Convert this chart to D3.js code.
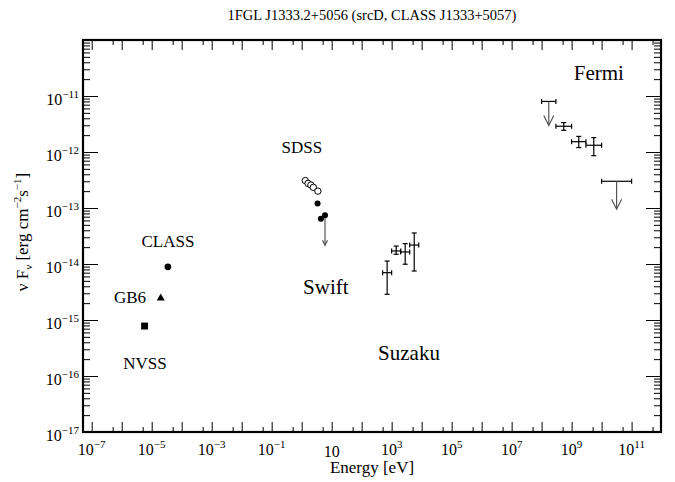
<!DOCTYPE html>
<html>
<head>
<meta charset="utf-8">
<script src="https://cdn.jsdelivr.net/npm/d3@7"></script>
<style>
  body { margin: 0; background: #fff; }
  svg { display: block; }
  text { font-family: "Liberation Serif", "DejaVu Serif", serif; fill: #000; }
</style>
</head>
<body>
<svg id="chart" width="675" height="482"></svg>
<script>
// ---------------- DATA ----------------
const titleText = "1FGL J1333.2+5056 (srcD, CLASS J1333+5057)";
const xLabelText = "Energy [eV]";

// Radio (NVSS, GB6, CLASS)
const radioNames = ["NVSS", "GB6", "CLASS"];
const radioE = [5.8e-6, 2.0e-5, 3.47e-5];
const radioF = [7.8e-16, 2.45e-15, 8.9e-15];
const radioSymbols = ["square", "triangle", "circle"];

// SDSS optical (open circles)
const sdssE = [1.32, 1.63, 2.03, 2.45, 3.47];
const sdssF = [3.09e-13, 2.75e-13, 2.57e-13, 2.34e-13, 2.0e-13];

// UV (filled circles), last one is an upper limit
const uvE = [3.39, 4.37, 6.0];
const uvF = [1.2e-13, 6.46e-14, 7.4e-14];
const uvUL = [false, false, true];

// X-ray (Swift / Suzaku)
const xrayElo = [500, 1000, 2000, 4000];
const xrayEhi = [1000, 2000, 4000, 8000];
const xrayF = [7.0e-15, 1.71e-14, 1.64e-14, 2.18e-14];
const xrayFlo = [2.88e-15, 1.49e-14, 9.9e-15, 7.5e-15];
const xrayFhi = [1.13e-14, 2.09e-14, 2.31e-14, 3.58e-14];

// Fermi LAT
const fermiElo = [1e8, 3e8, 1e9, 3e9, 1e10];
const fermiEhi = [3e8, 1e9, 3e9, 1e10, 1e11];
const fermiF = [8.0e-12, 2.88e-12, 1.53e-12, 1.32e-12, 3.0e-13];
const fermiFlo = [null, 2.44e-12, 1.2e-12, 8.6e-13, null];
const fermiFhi = [null, 3.35e-12, 1.9e-12, 1.81e-12, null];
const fermiUL = [true, false, false, false, true];

// Text annotations (data coordinates)
const annText = ["CLASS", "GB6", "NVSS", "SDSS", "Swift", "Suzaku", "Fermi"];
const annE = [3.5e-5, 1.9e-6, 6.0e-6, 1.02, 6.4, 3800, 8.1e9];
const annF = [2.54e-14, 2.57e-15, 1.7e-16, 1.2e-12, 3.9e-15, 2.57e-16, 2.57e-11];
const annBig = [false, false, false, false, true, true, true];

// Ticks
const xMajorExp = d3.range(-7, 12);
const xLabelExp = [-7, -5, -3, -1, 1, 3, 5, 7, 9, 11];
const yMajorExp = d3.range(-17, -9);
const yLabelExp = [-17, -16, -15, -14, -13, -12, -11];

// ---------------- LAYOUT ----------------
const svg = d3.select("#chart");
const L = 83, R = 661, T = 40, B = 432;

const x = d3.scaleLog().domain([Math.pow(10, -7.29), Math.pow(10, 11.98)]).range([L, R]);
const y = d3.scaleLog().domain([1e-17, 1e-10]).range([B, T]);

const xMajor = xMajorExp.map(e => Math.pow(10, e));
const xMinor = d3.range(-8, 12).map(e => 5 * Math.pow(10, e)).filter(v => x(v) > L + 0.5 && x(v) < R - 0.5);
const yMajor = yMajorExp.map(e => Math.pow(10, e)).filter(v => y(v) < B - 0.5 && y(v) > T + 0.5);
const yMinor = [];
d3.range(-17, -10).forEach(e => { for (let k = 2; k <= 9; k++) yMinor.push(k * Math.pow(10, e)); });

const minus = "\u2212";

// ---------------- AXES (ticks via d3 axes, inward) ----------------
function drawAxis(axisGen, tx, ty) {
  const g = svg.append("g").attr("transform", `translate(${tx},${ty})`).call(axisGen);
  g.select(".domain").remove();
  g.selectAll("text").remove();
  g.selectAll("line").attr("stroke", "#000").attr("stroke-width", 1);
  return g;
}
// bottom
drawAxis(d3.axisBottom(x).tickValues(xMajor).tickSizeInner(-10).tickSizeOuter(0), 0, B);
drawAxis(d3.axisBottom(x).tickValues(xMinor).tickSizeInner(-5).tickSizeOuter(0), 0, B);
// top
drawAxis(d3.axisTop(x).tickValues(xMajor).tickSizeInner(-10).tickSizeOuter(0), 0, T);
drawAxis(d3.axisTop(x).tickValues(xMinor).tickSizeInner(-5).tickSizeOuter(0), 0, T);
// left
drawAxis(d3.axisLeft(y).tickValues(yMajor).tickSizeInner(-15).tickSizeOuter(0), L, 0);
drawAxis(d3.axisLeft(y).tickValues(yMinor).tickSizeInner(-7).tickSizeOuter(0), L, 0);
// right
drawAxis(d3.axisRight(y).tickValues(yMajor).tickSizeInner(-15).tickSizeOuter(0), R, 0);
drawAxis(d3.axisRight(y).tickValues(yMinor).tickSizeInner(-7).tickSizeOuter(0), R, 0);

// frame
svg.append("rect").attr("x", L).attr("y", T).attr("width", R - L).attr("height", B - T)
  .attr("fill", "none").attr("stroke", "#000").attr("stroke-width", 2.2);

// x tick labels
const xl = svg.append("g");
xLabelExp.forEach(e => {
  const t = xl.append("text").attr("x", x(Math.pow(10, e))).attr("y", 455)
    .attr("text-anchor", "middle").attr("font-size", 16);
  if (e === 1) {
    t.attr("y", 457).text("10");
  } else {
    t.append("tspan").text("10");
    t.append("tspan").attr("font-size", 11).attr("dy", -7).text((e < 0 ? minus : "") + Math.abs(e));
  }
});
// y tick labels
const yl = svg.append("g");
yLabelExp.forEach(e => {
  const t = yl.append("text").attr("x", 79).attr("y", y(Math.pow(10, e)) + 9)
    .attr("text-anchor", "end").attr("font-size", 16);
  t.append("tspan").text("10");
  t.append("tspan").attr("font-size", 11).attr("dy", -7).text(minus + Math.abs(e));
});

// axis titles
svg.append("text").attr("x", (L + R) / 2).attr("y", 473).attr("text-anchor", "middle")
  .attr("font-size", 17).text(xLabelText);

const yt = svg.append("text").attr("transform", `translate(28,${232}) rotate(-90)`)
  .attr("text-anchor", "middle").attr("font-size", 17);
yt.append("tspan").text("\u03bd F");
yt.append("tspan").attr("font-size", 11).attr("dy", 4).text("\u03bd");
yt.append("tspan").attr("dy", -4).text(" [erg cm");
yt.append("tspan").attr("font-size", 11).attr("dy", -7).text(minus + "2");
yt.append("tspan").attr("dy", 7).text("s");
yt.append("tspan").attr("font-size", 11).attr("dy", -7).text(minus + "1");
yt.append("tspan").attr("dy", 7).text("]");

// title
svg.append("text").attr("x", (L + R) / 2).attr("y", 20).attr("text-anchor", "middle")
  .attr("font-size", 14.5).text(titleText);

// ---------------- MARKS ----------------
const marks = svg.append("g");

// radio
const symMap = { square: d3.symbolSquare, triangle: d3.symbolTriangle, circle: d3.symbolCircle };
const symSize = { square: 48, triangle: 28, circle: 36 };
radioE.forEach((e, i) => {
  marks.append("path")
    .attr("d", d3.symbol().type(symMap[radioSymbols[i]]).size(symSize[radioSymbols[i]])())
    .attr("transform", `translate(${x(e)},${y(radioF[i])})`)
    .attr("fill", "#000");
});

// upper-limit helper
function upperLimit(px, py, len, head, color) {
  marks.append("line").attr("x1", px).attr("x2", px).attr("y1", py).attr("y2", py + len)
    .attr("stroke", color).attr("stroke-width", 1.2);
  marks.append("path")
    .attr("d", `M${px - head * 0.5},${py + len - head} L${px},${py + len} L${px + head * 0.5},${py + len - head}`)
    .attr("fill", "none").attr("stroke", color).attr("stroke-width", 1.2);
}

// UV / optical filled points
uvE.forEach((e, i) => {
  const px = x(e), py = y(uvF[i]);
  if (uvUL[i]) upperLimit(px, py, 30, 5, "#555");
  marks.append("circle").attr("cx", px).attr("cy", py).attr("r", 3).attr("fill", "#000");
});

// SDSS open circles
sdssE.forEach((e, i) => {
  marks.append("circle").attr("cx", x(e)).attr("cy", y(sdssF[i])).attr("r", 3.2)
    .attr("fill", "#fff").attr("stroke", "#000").attr("stroke-width", 1);
});

// error bar helper
function errBar(e0, e1, f, f0, f1) {
  const xc = x(Math.sqrt(e0 * e1)), yc = y(f);
  const cap = 2.5;
  const g = marks.append("g").attr("stroke", "#000").attr("stroke-width", 1.2);
  g.append("line").attr("x1", x(e0)).attr("x2", x(e1)).attr("y1", yc).attr("y2", yc);
  g.append("line").attr("x1", x(e0)).attr("x2", x(e0)).attr("y1", yc - cap).attr("y2", yc + cap);
  g.append("line").attr("x1", x(e1)).attr("x2", x(e1)).attr("y1", yc - cap).attr("y2", yc + cap);
  if (f0 != null) {
    g.append("line").attr("x1", xc).attr("x2", xc).attr("y1", y(f0)).attr("y2", y(f1));
    g.append("line").attr("x1", xc - cap).attr("x2", xc + cap).attr("y1", y(f0)).attr("y2", y(f0));
    g.append("line").attr("x1", xc - cap).attr("x2", xc + cap).attr("y1", y(f1)).attr("y2", y(f1));
  }
  return [xc, yc];
}

// X-ray
xrayF.forEach((f, i) => errBar(xrayElo[i], xrayEhi[i], f, xrayFlo[i], xrayFhi[i]));

// Fermi
fermiF.forEach((f, i) => {
  const [xc, yc] = errBar(fermiElo[i], fermiEhi[i], f, fermiFlo[i], fermiFhi[i]);
  if (fermiUL[i]) upperLimit(xc, yc, i === 0 ? 24 : 28, 10, "#555");
});

// annotations
annText.forEach((t, i) => {
  svg.append("text").attr("x", x(annE[i])).attr("y", y(annF[i]))
    .attr("text-anchor", "middle").attr("dominant-baseline", "central")
    .attr("font-size", annBig[i] ? 21 : 17).text(t);
});
</script>
</body>
</html>
